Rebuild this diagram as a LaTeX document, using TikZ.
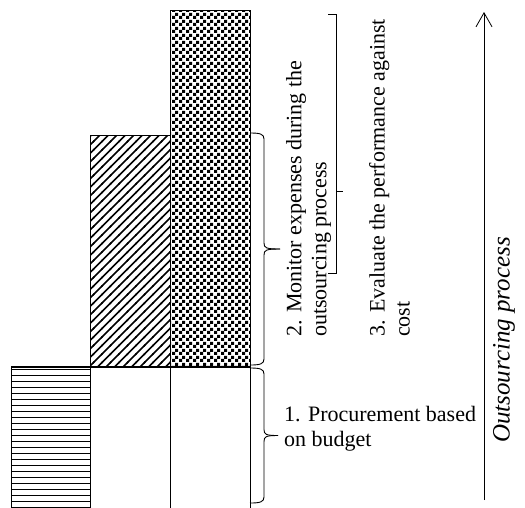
\documentclass[tikz,border=0pt]{standalone}
\usepackage{fontspec}
\setmainfont{Liberation Serif}
\usetikzlibrary{patterns,patterns.meta,arrows.meta}
\pgfdeclarepatternformonly{checks}{\pgfpointorigin}{\pgfpoint{6.6pt}{6.6pt}}{\pgfpoint{6.6pt}{6.6pt}}{%
  \pgfpathrectangle{\pgfpointorigin}{\pgfpoint{3.3pt}{3.3pt}}%
  \pgfpathrectangle{\pgfpoint{3.3pt}{3.3pt}}{\pgfpoint{3.3pt}{3.3pt}}%
  \pgfusepath{fill}}
\pgfdeclarepatternformonly{slants}{\pgfpoint{-1pt}{-1pt}}{\pgfpoint{9.5pt}{9.5pt}}{\pgfpoint{8.5pt}{8.5pt}}{%
  \pgfsetlinewidth{1.5pt}%
  \pgfpathmoveto{\pgfpoint{-1pt}{-1pt}}\pgfpathlineto{\pgfpoint{9.5pt}{9.5pt}}%
  \pgfusepath{stroke}}
% flat curly brace: x, top y, bottom y, tip length
\newcommand{\stepbrace}[4]{%
  \draw[line width=0.9pt] (#1,#2) .. controls ({#1+10},#2) and ({#1+14},{#2+1}) .. ({#1+14},{#2+6})
    -- ({#1+14},{(#2+#3)/2-6}) .. controls ({#1+14},{(#2+#3)/2-1}) and ({#1+16},{(#2+#3)/2}) .. ({#1+#4},{(#2+#3)/2});
  \draw[line width=0.9pt] (#1,#3) .. controls ({#1+10},#3) and ({#1+14},{#3-1}) .. ({#1+14},{#3-6})
    -- ({#1+14},{(#2+#3)/2+6}) .. controls ({#1+14},{(#2+#3)/2+1}) and ({#1+16},{(#2+#3)/2}) .. ({#1+#4},{(#2+#3)/2});}

\begin{document}
\begin{tikzpicture}[x=1pt, y=-1pt,
    stage/.style={rectangle, draw=black, line width=0.9pt, inner sep=0pt, minimum width=79.5pt, anchor=north west},
    lbl/.style={font=\fontsize{22}{25}\selectfont, align=left, inner sep=0pt, anchor=north west}]
	\useasboundingbox (0,0) rectangle (525,507);

	% Stage columns (upper parts)
	\node[stage, minimum height=141pt, pattern={Lines[distance=6pt, line width=0.8pt]}] (budget) at (11,367) {};
	\node[stage, minimum height=232pt, pattern=slants] (monitor) at (90,135) {};
	\node[stage, minimum height=357pt, pattern=checks] (evaluate) at (170,10) {};

	% Empty lower parts
	\node[stage, minimum height=141pt] (lower2) at (90,367) {};
	\node[stage, minimum height=141pt] (lower3) at (170,367) {};
	\draw[line width=1.6pt] (budget.north west) -- (lower3.north east);

	% Braces
	\stepbrace{250}{368}{503}{28}
	\stepbrace{250}{133}{365}{30}
	\draw[line width=0.9pt] (328,14) -- (336,14) -- (336,273) -- (328,273);
	\draw[line width=0.9pt] (336,191) -- (343,191);

	% Step labels
	\node[lbl] (step1) at (284,406) {1. Procurement based\\on budget};
	\node[lbl, rotate=90] (step2) at (286,337) {2. Monitor expenses during the\\outsourcing process};
	\node[lbl, rotate=90] (step3) at (369,337) {3. Evaluate the performance against\\cost};

	% Process direction
	\coordinate (flowstart) at (484,500);
	\coordinate (flowend) at (484,12);
	\draw[-{Straight Barb[length=14pt, width=16pt]}, line width=0.8pt] (flowstart) -- (flowend);
	\node[font=\fontsize{25}{28}\selectfont\itshape, rotate=90] (flow) at (504,340) {Outsourcing process};

\end{tikzpicture}
\end{document}
